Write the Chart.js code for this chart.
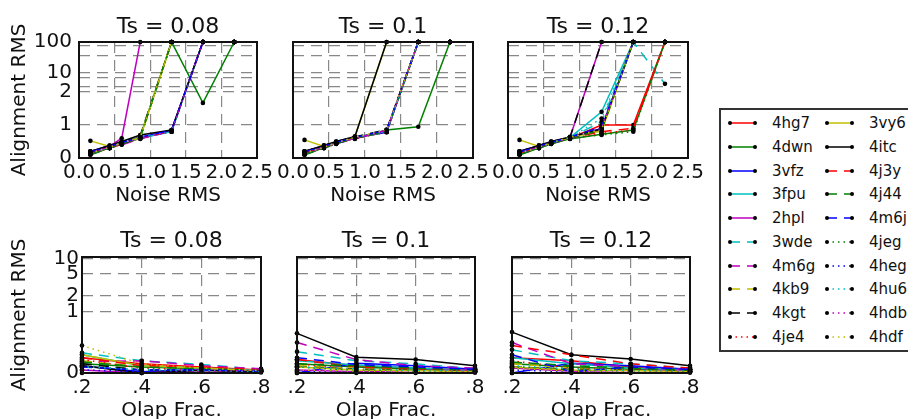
<!DOCTYPE html>
<html>
<head>
<meta charset="utf-8">
<script src="https://cdn.jsdelivr.net/npm/chart.js@4.4.0/dist/chart.umd.min.js"></script>
<style>
  body { margin: 0; width: 908px; height: 419px; overflow: hidden; background: #fff; position: relative; font-family: 'DejaVu Sans', sans-serif; }
  canvas.panel { position: absolute; }
  #legend { position: absolute; left: 719px; top: 108px; width: 220px; height: 244px; border: 2px solid #333; box-sizing: border-box; }
  .entry { position: absolute; height: 20px; display: flex; align-items: center; font-size: 15px; color: #111; white-space: nowrap; }
  .entry svg { margin-right: 15px; }
</style>
</head>
<body>
<div id="legend"></div>
<script>
// Series (legend order, column by column)
const seriesNames = ['4hg7', '4dwn', '3vfz', '3fpu', '2hpl', '3wde', '4m6g', '4kb9', '4kgt', '4je4',
                     '3vy6', '4itc', '4j3y', '4j44', '4m6j', '4jeg', '4heg', '4hu6', '4hdb', '4hdf'];

// x values of each row
const noiseRms = [0.16, 0.43, 0.6, 0.86, 1.3, 1.74, 2.18];
const olapFrac = [0.2, 0.4, 0.6, 0.8];

// tick values / labels
const noiseXTicks = [0, 0.5, 1, 1.5, 2, 2.5];
const noiseXLabels = ['0.0', '0.5', '1.0', '1.5', '2.0', '2.5'];
const olapXTicks = [0.2, 0.4, 0.6, 0.8];
const olapXLabels = ['.2', '.4', '.6', '.8'];
const noiseYTicks = [0, 1, 2, 3, 5, 10, 20, 50, 100];
const noiseYLabels = ['0', '1', '2', '', '', '10', '', '', '100'];
const olapYTicks = [0, 1, 2, 5, 10];
const olapYLabels = ['0', '1', '2', '5', '10'];

// Alignment RMS vs noise RMS, one row per series
const noiseTs008 = [
  [0.12, 0.30, 0.42, 0.60, 0.82, 100, 100],
  [0.10, 0.32, 0.45, 0.65, 100, 1.67, 100],
  [0.20, 0.38, 0.48, 0.62, 0.85, 100, 100],
  [0.15, 0.33, 0.45, 0.60, 0.80, 100, 100],
  [0.15, 0.35, 0.60, 100, 100, 100, 100],
  [0.15, 0.35, 0.45, 0.60, 0.80, 100, 100],
  [0.12, 0.30, 0.40, 0.58, 0.82, 100, 100],
  [0.18, 0.32, 0.45, 0.62, 100, 100, 100],
  [0.20, 0.35, 0.48, 0.68, 100, 100, 100],
  [0.12, 0.30, 0.42, 0.60, 100, 100, 100],
  [0.52, 0.35, 0.45, 0.62, 100, 100, 100],
  [0.20, 0.38, 0.50, 0.70, 0.85, 100, 100],
  [0.15, 0.33, 0.45, 0.60, 0.83, 100, 100],
  [0.10, 0.30, 0.42, 0.62, 100, 100, 100],
  [0.18, 0.35, 0.47, 0.63, 0.84, 100, 100],
  [0.12, 0.30, 0.43, 0.60, 100, 100, 100],
  [0.15, 0.32, 0.44, 0.60, 0.82, 100, 100],
  [0.14, 0.33, 0.46, 0.62, 0.80, 100, 100],
  [0.16, 0.34, 0.45, 0.60, 0.80, 100, 100],
  [0.15, 0.32, 0.46, 0.63, 100, 100, 100]
];
const noiseTs010 = [
  [0.12, 0.32, 0.45, 0.60, 0.80, 100, 100],
  [0.10, 0.32, 0.45, 0.60, 0.85, 0.95, 100],
  [0.20, 0.38, 0.48, 0.62, 0.78, 100, 100],
  [0.15, 0.35, 0.46, 0.62, 0.82, 100, 100],
  [0.14, 0.33, 0.46, 0.60, 0.84, 100, 100],
  [0.15, 0.34, 0.47, 0.61, 0.80, 100, 100],
  [0.12, 0.30, 0.44, 0.58, 0.83, 100, 100],
  [0.18, 0.36, 0.48, 0.62, 0.80, 100, 100],
  [0.20, 0.38, 0.50, 0.64, 0.86, 100, 100],
  [0.12, 0.31, 0.44, 0.60, 0.78, 100, 100],
  [0.55, 0.35, 0.45, 0.65, 100, 100, 100],
  [0.20, 0.38, 0.50, 0.65, 100, 100, 100],
  [0.15, 0.33, 0.45, 0.60, 0.82, 100, 100],
  [0.10, 0.30, 0.43, 0.60, 0.80, 100, 100],
  [0.18, 0.36, 0.47, 0.63, 0.84, 100, 100],
  [0.12, 0.30, 0.43, 0.60, 0.79, 100, 100],
  [0.15, 0.32, 0.44, 0.60, 0.81, 100, 100],
  [0.14, 0.33, 0.46, 0.62, 0.80, 100, 100],
  [0.16, 0.34, 0.45, 0.60, 0.82, 100, 100],
  [0.15, 0.32, 0.46, 0.63, 0.85, 100, 100]
];
const noiseTs012 = [
  [0.12, 0.32, 0.45, 0.60, 1.00, 1.00, 100],
  [0.10, 0.30, 0.43, 0.58, 0.72, 0.85, 100],
  [0.20, 0.38, 0.48, 0.62, 0.90, 100, 100],
  [0.15, 0.35, 0.46, 0.62, 1.40, 100, 100],
  [0.15, 0.35, 0.48, 0.62, 100, 100, 100],
  [0.15, 0.34, 0.47, 0.61, 1.10, 100, 3.7],
  [0.12, 0.30, 0.44, 0.58, 0.85, 100, 100],
  [0.18, 0.36, 0.48, 0.62, 0.80, 100, 100],
  [0.20, 0.38, 0.50, 0.62, 100, 100, 100],
  [0.12, 0.31, 0.44, 0.60, 0.75, 0.85, 100],
  [0.55, 0.35, 0.45, 0.63, 0.82, 100, 100],
  [0.20, 0.38, 0.50, 0.64, 0.88, 100, 100],
  [0.15, 0.33, 0.45, 0.60, 0.80, 0.90, 100],
  [0.10, 0.30, 0.43, 0.60, 0.85, 100, 100],
  [0.18, 0.36, 0.47, 0.63, 0.95, 100, 100],
  [0.12, 0.30, 0.43, 0.60, 0.70, 0.80, 100],
  [0.15, 0.32, 0.44, 0.60, 0.90, 100, 100],
  [0.14, 0.33, 0.46, 0.62, 1.20, 100, 100],
  [0.16, 0.34, 0.45, 0.60, 0.92, 100, 100],
  [0.15, 0.32, 0.46, 0.63, 0.86, 100, 100]
];

// Alignment RMS vs overlap fraction, one row per series
const olapTs008 = [
  [0.25, 0.15, 0.10, 0.05], [0.15, 0.10, 0.07, 0.03], [0.12, 0.02, 0.06, 0.03], [0.30, 0.12, 0.08, 0.04],
  [0.05, 0.00, 0.05, 0.03], [0.33, 0.20, 0.14, 0.06], [0.18, 0.20, 0.12, 0.07], [0.20, 0.10, 0.08, 0.04],
  [0.15, 0.05, 0.05, 0.02], [0.22, 0.08, 0.05, 0.02], [0.30, 0.12, 0.08, 0.03], [0.12, 0.00, 0.04, 0.02],
  [0.25, 0.12, 0.10, 0.05], [0.18, 0.10, 0.07, 0.04], [0.10, 0.05, 0.05, 0.03], [0.12, 0.05, 0.03, 0.02],
  [0.05, 0.02, 0.02, 0.01], [0.10, 0.06, 0.04, 0.02], [0.00, 0.00, 0.02, 0.05], [0.45, 0.15, 0.08, 0.04]
];
const olapTs010 = [
  [0.22, 0.12, 0.08, 0.05], [0.15, 0.10, 0.06, 0.04], [0.00, 0.16, 0.12, 0.06], [0.20, 0.13, 0.08, 0.04],
  [0.05, 0.02, 0.04, 0.05], [0.35, 0.20, 0.15, 0.07], [0.50, 0.22, 0.12, 0.08], [0.12, 0.08, 0.05, 0.03],
  [0.10, 0.06, 0.05, 0.03], [0.15, 0.06, 0.04, 0.02], [0.10, 0.05, 0.04, 0.02], [0.65, 0.26, 0.22, 0.12],
  [0.22, 0.10, 0.07, 0.05], [0.15, 0.12, 0.08, 0.05], [0.25, 0.14, 0.10, 0.06], [0.10, 0.04, 0.03, 0.02],
  [0.03, 0.02, 0.02, 0.01], [0.10, 0.07, 0.04, 0.03], [0.00, 0.00, 0.00, 0.02], [0.05, 0.03, 0.02, 0.01]
];
const olapTs012 = [
  [0.25, 0.20, 0.10, 0.06], [0.15, 0.10, 0.06, 0.04], [0.00, 0.16, 0.12, 0.06], [0.25, 0.15, 0.08, 0.05],
  [0.08, 0.03, 0.04, 0.05], [0.38, 0.20, 0.15, 0.08], [0.50, 0.15, 0.10, 0.06], [0.15, 0.08, 0.05, 0.03],
  [0.10, 0.06, 0.05, 0.03], [0.20, 0.08, 0.05, 0.02], [0.10, 0.05, 0.04, 0.02], [0.67, 0.30, 0.23, 0.12],
  [0.45, 0.30, 0.15, 0.08], [0.18, 0.12, 0.08, 0.05], [0.30, 0.02, 0.10, 0.06], [0.10, 0.05, 0.03, 0.02],
  [0.05, 0.02, 0.02, 0.01], [0.12, 0.07, 0.04, 0.03], [0.00, 0.00, 0.00, 0.02], [0.08, 0.03, 0.02, 0.01]
];

// Styles
const seriesColors = ['#ff0000', '#008000', '#0000ff', '#00bfbf', '#bf00bf', '#00bfbf', '#bf00bf', '#bfbf00', '#000000', '#ff0000',
                      '#bfbf00', '#000000', '#ff0000', '#008000', '#0000ff', '#008000', '#0000ff', '#00bfbf', '#bf00bf', '#bfbf00'];
const seriesStyles = ['-', '-', '-', '-', '-', '--', '--', '--', '--', ':',
                      '-', '-', '--', '--', '--', ':', ':', ':', ':', ':'];
const dashFor = { '-': [], '--': [10, 7], ':': [1.5, 4] };

// The y axis is warped (matplotlib-like custom spacing): value -> fraction of axis height
const warpAnchors = {
  noise: [[0, 0], [1, 0.284], [2, 0.569], [3, 0.612], [5, 0.69], [10, 0.733], [20, 0.879], [50, 0.966], [100, 1]],
  olap: [[0, 0], [1, 0.526], [2, 0.664], [5, 0.853], [10, 0.985], [10.2, 1]]
};
const warpTicks = { noise: noiseYTicks, olap: olapYTicks };

function warp(anchors, v) {
  if (v <= anchors[0][0]) return anchors[0][1];
  for (let i = 1; i < anchors.length; i++) {
    if (v <= anchors[i][0]) {
      const [v0, f0] = anchors[i - 1], [v1, f1] = anchors[i];
      return f0 + (f1 - f0) * (v - v0) / (v1 - v0);
    }
  }
  return anchors[anchors.length - 1][1];
}
function unwarp(anchors, f) {
  if (f <= anchors[0][1]) return anchors[0][0];
  for (let i = 1; i < anchors.length; i++) {
    if (f <= anchors[i][1]) {
      const [v0, f0] = anchors[i - 1], [v1, f1] = anchors[i];
      return v0 + (v1 - v0) * (f - f0) / (f1 - f0);
    }
  }
  return anchors[anchors.length - 1][0];
}

class WarpScale extends Chart.LinearScale {
  buildTicks() {
    return warpTicks[this.options.warp].map(v => ({ value: v }));
  }
  getPixelForValue(value) {
    return this.getPixelForDecimal(warp(warpAnchors[this.options.warp], value));
  }
  getValueForPixel(pixel) {
    return unwarp(warpAnchors[this.options.warp], this.getDecimalForPixel(pixel));
  }
}
WarpScale.id = 'warp';
WarpScale.defaults = Chart.LinearScale.defaults;
Chart.register(WarpScale);

Chart.defaults.font.family = "'DejaVu Sans', sans-serif";
Chart.defaults.color = '#111';

// frame round the axes + title above it
const panelDecor = {
  id: 'panelDecor',
  afterDatasetsDraw(chart, args, opts) {
    const { ctx, chartArea: a } = chart;
    ctx.save();
    ctx.strokeStyle = '#111';
    ctx.lineWidth = 2;
    ctx.strokeRect(a.left, a.top, a.right - a.left, a.bottom - a.top);
    ctx.fillStyle = '#111';
    ctx.font = "22px 'DejaVu Sans'";
    ctx.textAlign = 'center';
    ctx.textBaseline = 'alphabetic';
    ctx.fillText(opts.text, (a.left + a.right) / 2, a.top - opts.gap);
    ctx.restore();
  }
};

const makePanel = (p) => {
  const canvas = document.createElement('canvas');
  canvas.className = 'panel';
  canvas.width = p.width;
  canvas.height = p.height;
  canvas.style.left = p.left + 'px';
  canvas.style.top = p.top + 'px';
  canvas.style.width = p.width + 'px';
  canvas.style.height = p.height + 'px';
  document.body.appendChild(canvas);

  const datasets = seriesNames.map((name, i) => ({
    label: name,
    data: p.xVals.map((x, j) => ({ x: x, y: p.values[i][j] })),
    borderColor: seriesColors[i],
    borderWidth: 1.5,
    borderDash: dashFor[seriesStyles[i]],
    pointRadius: 2.3,
    pointBorderWidth: 0,
    pointBackgroundColor: '#000',
    pointBorderColor: '#000',
    tension: 0,
    fill: false,
    clip: 6,
    order: seriesNames.length - i
  }));

  const grid = { color: '#888', lineWidth: 1.2, drawTicks: false };
  const gridBorder = { display: false, dash: [11, 7] };

  new Chart(canvas, {
    type: 'line',
    data: { datasets },
    plugins: [panelDecor],
    options: {
      responsive: false,
      animation: false,
      events: [],
      layout: { padding: { top: p.boxTop, right: 20, left: 0, bottom: 0 } },
      plugins: {
        legend: { display: false },
        tooltip: { enabled: false },
        panelDecor: { text: p.title, gap: p.titleGap }
      },
      scales: {
        x: {
          type: 'linear',
          min: p.xTicks[0],
          max: p.xTicks[p.xTicks.length - 1],
          afterBuildTicks: s => { s.ticks = p.xTicks.map(v => ({ value: v })); },
          afterFit: s => { s.height = p.xAxisH; },
          grid: grid,
          border: gridBorder,
          ticks: { autoSkip: false, maxRotation: 0, minRotation: 0, padding: 3, font: { size: 20 },
                   callback: (v, i) => p.xLabels[i] },
          title: { display: true, text: p.xTitle, font: { size: 20 }, padding: { top: 0, bottom: p.xTitlePad } }
        },
        y: {
          type: 'warp',
          warp: p.warp,
          min: 0,
          max: p.warp === 'noise' ? 100 : 10.2,
          afterFit: s => { s.width = p.yW; },
          grid: grid,
          border: gridBorder,
          ticks: { display: p.first, autoSkip: false, padding: p.yTickPad, font: { size: 20 },
                   callback: (v, i) => p.yLabels[i] },
          title: { display: p.first, text: 'Alignment RMS', font: { size: 20 }, padding: { top: 8, bottom: 0 } }
        }
      }
    }
  });
};

// top row: alignment vs noise
const topTitles = ['Ts = 0.08', 'Ts = 0.1', 'Ts = 0.12'];
const topValues = [noiseTs008, noiseTs010, noiseTs012];
const topLefts = [0, 273, 488];
const topYW = [79, 20, 20];
const topWidths = [277, 220, 220];
// bottom row: alignment vs overlap fraction
const botValues = [olapTs008, olapTs010, olapTs012];
const botLefts = [0, 277, 492];
const botYW = [82, 20, 20];
const botWidths = [281, 218, 218];

for (let k = 0; k < 3; k++) {
  makePanel({
    left: topLefts[k], top: 0, width: topWidths[k], height: 210, yW: topYW[k],
    boxTop: 42, xAxisH: 52, titleGap: 9, first: k === 0, title: topTitles[k],
    xVals: noiseRms, values: topValues[k], xTicks: noiseXTicks, xLabels: noiseXLabels,
    xTitle: 'Noise RMS', xTitlePad: 2, warp: 'noise', yLabels: noiseYLabels, yTickPad: 7
  });
  makePanel({
    left: botLefts[k], top: 210, width: botWidths[k], height: 220, yW: botYW[k],
    boxTop: 47, xAxisH: 57, titleGap: 10, first: k === 0, title: topTitles[k],
    xVals: olapFrac, values: botValues[k], xTicks: olapXTicks, xLabels: olapXLabels,
    xTitle: 'Olap Frac.', xTitlePad: 7, warp: 'olap', yLabels: olapYLabels, yTickPad: 3
  });
}

// legend (two columns, clipped by the page edge like the original)
const legend = document.getElementById('legend');
seriesNames.forEach((name, i) => {
  const col = Math.floor(i / 10), row = i % 10;
  const dash = dashFor[seriesStyles[i]].join(',');
  const entry = document.createElement('div');
  entry.className = 'entry';
  entry.style.left = (col ? 104 : 7) + 'px';
  entry.style.top = (3 + row * 23.75) + 'px';
  entry.innerHTML =
    `<svg width="29" height="10"><line x1="2" y1="5" x2="27" y2="5" stroke="${seriesColors[i]}" stroke-width="1.5"` +
    (dash ? ` stroke-dasharray="${dash}"` : '') + `/>` +
    `<circle cx="2" cy="5" r="2" fill="#000"/><circle cx="27" cy="5" r="2" fill="#000"/></svg><span>${name}</span>`;
  legend.appendChild(entry);
});
</script>
</body>
</html>
